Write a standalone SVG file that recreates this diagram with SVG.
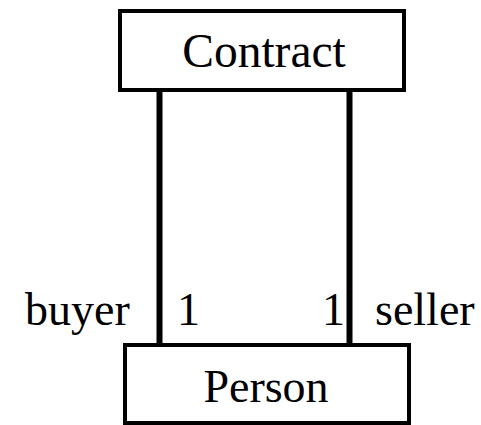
<svg xmlns="http://www.w3.org/2000/svg" width="481" height="425" viewBox="0 0 481 425">
<style>
.box{fill:#fff;stroke:#000;stroke-width:4}
.edge{stroke:#000;stroke-width:6;fill:none}
text{font-family:"Liberation Serif","Times New Roman",serif;font-size:46px;fill:#000}
</style>
<rect width="481" height="425" fill="#fff"/>
<g id="connectors">
<line class="edge" x1="159.5" y1="90" x2="159.5" y2="345"/>
<line class="edge" x1="349.5" y1="90" x2="349.5" y2="345"/>
<text x="25" y="325">buyer</text>
<text x="177" y="325">1</text>
<text x="322" y="325">1</text>
<text x="375" y="325">seller</text>
</g>
<g id="contract">
<rect class="box" x="120" y="11" width="284" height="79"/>
<text x="264" y="67" text-anchor="middle" style="font-size:47.5px">Contract</text>
</g>
<g id="person">
<rect class="box" x="125" y="345" width="284" height="78"/>
<text x="266" y="402" text-anchor="middle">Person</text>
</g>
</svg>
